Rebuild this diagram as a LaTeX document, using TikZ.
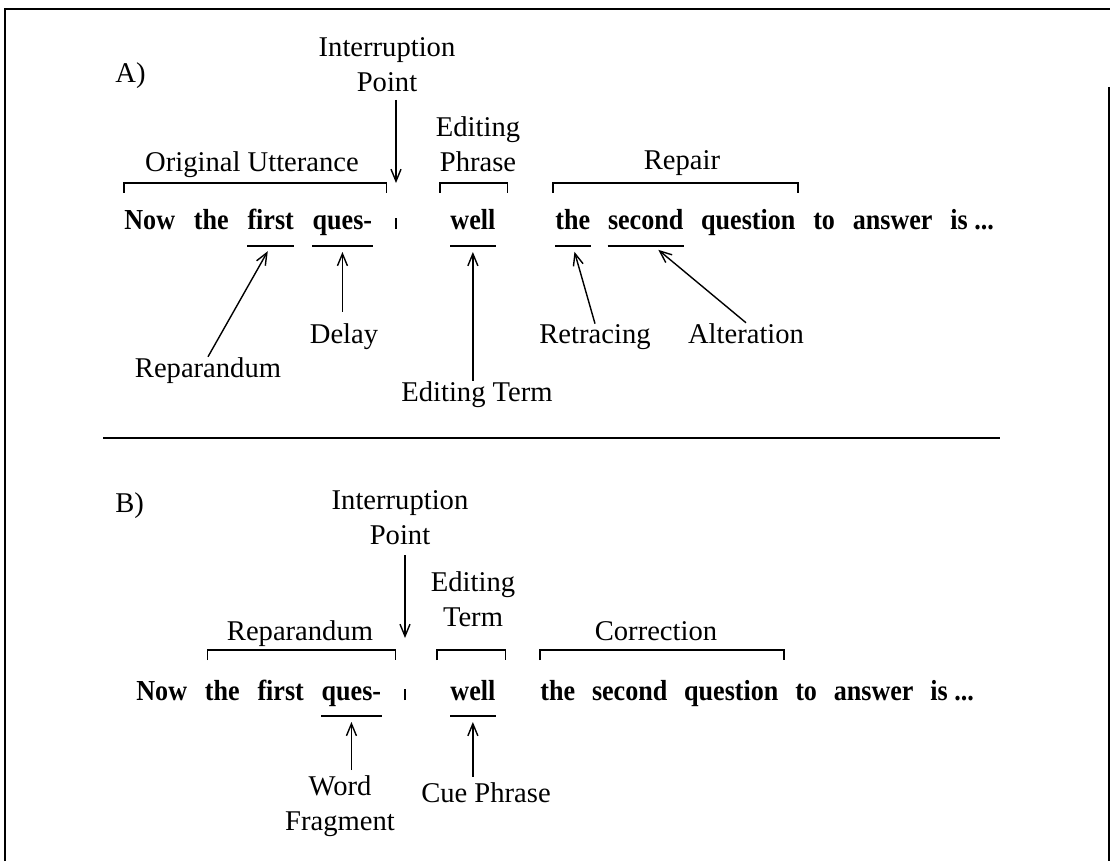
\documentclass[tikz,border=0pt]{standalone}
\usepackage{fontspec}
\setmainfont{Liberation Serif}
\newfontfamily\wordfont[FakeStretch=0.9]{Liberation Serif}
\usetikzlibrary{positioning}
\usetikzlibrary{arrows.meta}
\tikzset{lbl/.style={inner sep=0pt,font=\fontsize{14.3}{17.5}\selectfont,align=center}}
\tikzset{wrd/.style={inner sep=0pt,font=\fontsize{14.5}{17}\selectfont\wordfont\bfseries}}
\tikzset{pointer/.style={-{Straight Barb[length=6pt,width=5pt]},line width=0.7pt,shorten >=3pt}}
\tikzset{brk/.style={line width=0.7pt}}

\begin{document}
\begin{tikzpicture}[x=0.5pt,y=-0.5pt]
            \useasboundingbox (0,0) rectangle (1112,861);
            \draw[line width=1pt] (5,861) -- (5,9) -- (1110,9);
            \draw[line width=1pt] (1109,87) -- (1109,861);
            \draw[line width=0.8pt] (103,438) -- (1000,438);

            \coordinate (brkA) at (0,183);
            \coordinate (brkB) at (0,650);

            \node (labA)   [lbl, anchor=base west] at (115,83)  {A)};
            \node (ipA)    [lbl, anchor=south]     at (387,92)  {Interruption\\Point};
            \node (edpA)   [lbl, anchor=south]     at (478,172) {Editing\\Phrase};
            \node (origA)  [lbl, anchor=base]      at (252,172) {Original Utterance};
            \node (repairA)[lbl, anchor=base]      at (682,170) {Repair};

            \node (nowA)   [wrd, anchor=base west] at (124,229) {Now};
            \node (theA)   [wrd, base right=9pt of nowA]     {the};
            \node (firstA) [wrd, base right=9pt of theA]     {first};
            \node (quesA)  [wrd, base right=9pt of firstA]   {ques-};
            \node (barA)   [inner sep=0pt, anchor=base] at (396,229) {\rule{0.8pt}{5.5pt}};
            \node (wellA)  [wrd, anchor=base west] at (450,229) {well};
            \node (the2A)  [wrd, anchor=base west] at (555,229) {the};
            \node (secondA)[wrd, base right=8.5pt of the2A]  {second};
            \node (questA) [wrd, base right=8.5pt of secondA] {question};
            \node (toA)    [wrd, base right=8.5pt of questA] {to};
            \node (ansA)   [wrd, base right=8.5pt of toA]    {answer};
            \node (isA)    [wrd, base right=8.5pt of ansA]   {is ...};

            \node (repA)   [lbl, anchor=base] at (208,377) {Reparandum};
            \node (delayA) [lbl, anchor=base] at (344,343) {Delay};
            \node (edtA)   [lbl, anchor=base] at (477,401) {Editing Term};
            \node (retrA)  [lbl, anchor=base] at (595,343) {Retracing};
            \node (altA)   [lbl, anchor=base] at (746,343) {Alteration};

            \draw[brk] (nowA.west |- brkA) ++(0,10) -- ++(0,-10) -- ([xshift=7pt]quesA.east |- brkA) -- ++(0,10);
            \draw[brk] ([xshift=-5pt]wellA.west |- brkA) ++(0,10) -- ++(0,-10) -- ([xshift=6pt]wellA.east |- brkA) -- ++(0,10);
            \draw[brk] ([xshift=-1pt]the2A.west |- brkA) ++(0,10) -- ++(0,-10) -- ([xshift=1pt]questA.east |- brkA) -- ++(0,10);

            \foreach \w in {firstA,quesA,wellA,the2A,secondA}
                \draw[brk] ([yshift=-8.5pt]\w.base west) -- ([yshift=-8.5pt]\w.base east) coordinate[midway] (ul-\w);

            \draw[pointer, shorten <=4pt, shorten >=0pt] (ipA.south -| barA) -- (barA |- brkA);
            \draw[pointer] (repA.north) -- (ul-firstA);
            \draw[pointer, shorten <=5.5pt] (delayA.north -| ul-quesA) -- (ul-quesA);
            \draw[pointer] (edtA.north -| ul-wellA) -- (ul-wellA);
            \draw[pointer] (retrA.north) -- (ul-the2A);
            \draw[pointer] (altA.north) -- ([xshift=4pt]ul-secondA);

            \node (labB)   [lbl, anchor=base west] at (115,512) {B)};
            \node (ipB)    [lbl, anchor=south]     at (400,545) {Interruption\\Point};
            \node (etB)    [lbl, anchor=south]     at (473,627) {Editing\\Term};
            \node (repB)   [lbl, anchor=base]      at (300,640) {Reparandum};
            \node (corrB)  [lbl, anchor=base]      at (656,640) {Correction};

            \node (nowB)   [wrd, anchor=base west] at (136,700) {Now};
            \node (theB)   [wrd, base right=8.5pt of nowB]   {the};
            \node (firstB) [wrd, base right=8.5pt of theB]   {first};
            \node (quesB)  [wrd, base right=8.5pt of firstB] {ques-};
            \node (barB)   [inner sep=0pt, anchor=base] at (405,700) {\rule{0.8pt}{5.5pt}};
            \node (wellB)  [wrd, anchor=base west] at (450,700) {well};
            \node (the2B)  [wrd, anchor=base west] at (540,700) {the};
            \node (secondB)[wrd, base right=8pt of the2B]    {second};
            \node (questB) [wrd, base right=8pt of secondB]  {question};
            \node (toB)    [wrd, base right=8pt of questB]   {to};
            \node (ansB)   [wrd, base right=8pt of toB]      {answer};
            \node (isB)    [wrd, base right=8pt of ansB]     {is ...};

            \node (wordB)  [lbl, anchor=south] at (340,837) {Word\\Fragment};
            \node (cueB)   [lbl, anchor=base]  at (486,802) {Cue Phrase};

            \draw[brk] ([xshift=1.5pt]theB.west |- brkB) ++(0,10) -- ++(0,-10) -- ([xshift=7pt]quesB.east |- brkB) -- ++(0,10);
            \draw[brk] ([xshift=-6.5pt]wellB.west |- brkB) ++(0,10) -- ++(0,-10) -- ([xshift=5pt]wellB.east |- brkB) -- ++(0,10);
            \draw[brk] (the2B.west |- brkB) ++(0,10) -- ++(0,-10) -- ([xshift=2.5pt]questB.east |- brkB) -- ++(0,10);

            \foreach \w in {quesB,wellB}
                \draw[brk] ([yshift=-8pt]\w.base west) -- ([yshift=-8pt]\w.base east) coordinate[midway] (ul-\w);

            \draw[pointer, shorten <=5pt, shorten >=6pt] (ipB.south -| barB) -- (barB |- brkB);
            \draw[pointer, shorten <=2.5pt] (wordB.north -| ul-quesB) -- (ul-quesB);
            \draw[pointer, shorten <=2.5pt] (cueB.north -| ul-wellB) -- (ul-wellB);
\end{tikzpicture}
\end{document}
